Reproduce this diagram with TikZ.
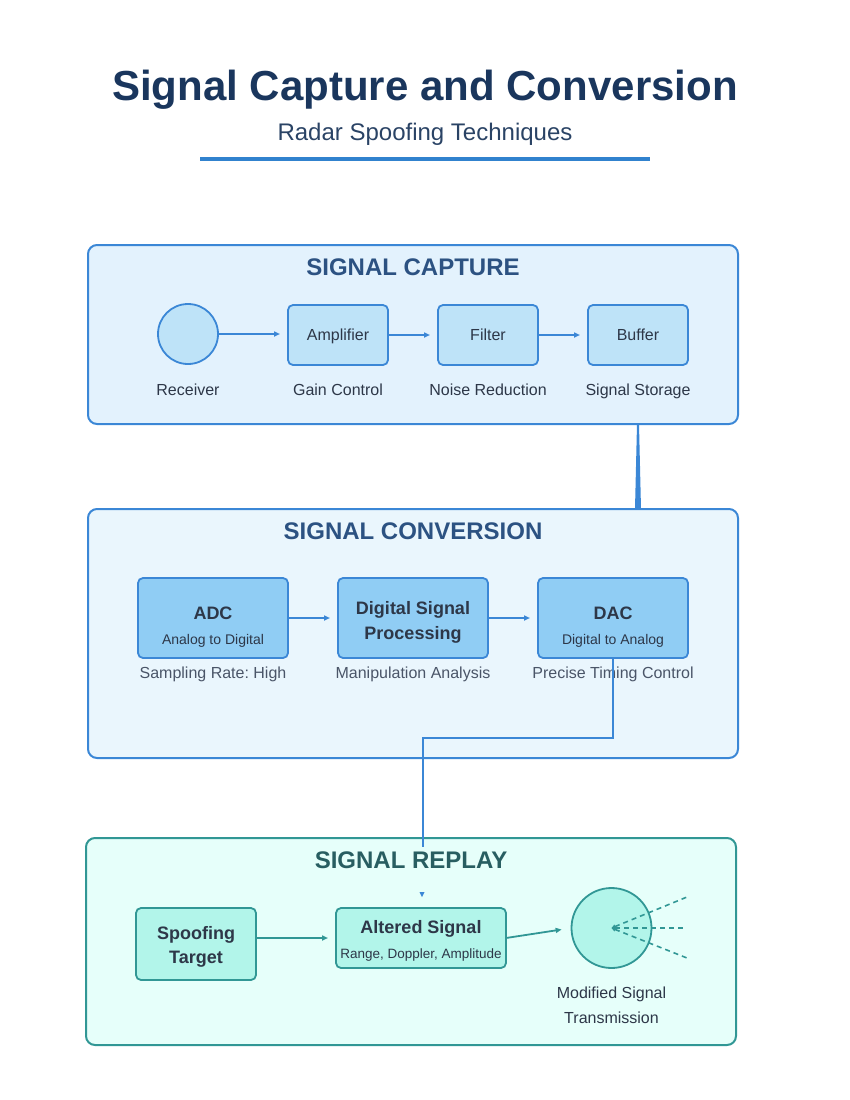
\documentclass[tikz,border=0pt]{standalone}
\usepackage{fontspec}
\setmainfont{Liberation Sans}
\usetikzlibrary{arrows.meta}
\definecolor{titlec}{HTML}{1A365D}
\definecolor{subc}{HTML}{2A4365}
\definecolor{headc}{HTML}{2C5282}
\definecolor{bluel}{HTML}{3182CE}
\definecolor{bluest}{HTML}{3B87D6}
\definecolor{capbg}{HTML}{E3F2FD}
\definecolor{convbg}{HTML}{EAF6FD}
\definecolor{capfill}{HTML}{BEE3F8}
\definecolor{convfill}{HTML}{90CDF4}
\definecolor{darkt}{HTML}{2D3748}
\definecolor{grayt}{HTML}{4A5568}
\definecolor{tealst}{HTML}{319795}
\definecolor{tealbg}{HTML}{E6FFFA}
\definecolor{tealfill}{HTML}{B2F5EA}
\definecolor{tealhead}{HTML}{285E61}
\newcommand\myfs[1]{\fontsize{#1}{#1}\selectfont}
\frenchspacing
\begin{document}
\begin{tikzpicture}[x=1pt,y=-1pt,
  panel/.style={draw=bluest, line width=2pt, rounded corners=9pt, inner sep=0pt, outer sep=0pt},
  capbox/.style={draw=bluest, fill=capfill, line width=1.8pt, rounded corners=5pt, minimum width=100pt, minimum height=60pt, inner sep=0pt, outer sep=0pt},
  convbox/.style={draw=bluest, fill=convfill, line width=1.8pt, rounded corners=5pt, minimum width=150pt, minimum height=80pt, inner sep=0pt, outer sep=0pt},
  repbox/.style={draw=tealst, fill=tealfill, line width=1.8pt, rounded corners=5pt, inner sep=0pt, outer sep=0pt},
  txt/.style={anchor=base, inner sep=0pt, text=darkt, font=\myfs{16}},
  gtxt/.style={anchor=base, inner sep=0pt, text=grayt, font=\myfs{16}},
  btxt/.style={anchor=base, inner sep=0pt, text=darkt, font=\myfs{18}\bfseries},
  stxt/.style={anchor=base, inner sep=0pt, text=darkt, font=\myfs{14}},
  head/.style={anchor=base, inner sep=0pt, font=\myfs{24}\bfseries},
  arr/.style={draw=bluest, line width=1.6pt, shorten >=8pt, -{Triangle[length=6pt,width=5pt]}},
  tarr/.style={draw=tealst, line width=1.8pt, shorten >=8pt, -{Triangle[length=6pt,width=5pt]}},
  conn/.style={draw=bluest, line width=1.8pt},
  beam/.style={draw=tealst, line width=1.6pt, dash pattern=on 5pt off 4pt}
]
\useasboundingbox (0,0) rectangle (850,1100);

% title
\node[anchor=base, inner sep=0pt, text=titlec, font=\myfs{42}\bfseries] (title) at (425,100) {Signal Capture and Conversion};
\node[anchor=base, inner sep=0pt, text=subc, font=\myfs{24}] (subtitle) at (425,140) {Radar Spoofing Techniques};
\draw[draw=bluel, line width=4pt] (200,159) coordinate (ul1) -- (650,159) coordinate (ul2);

% panels
\node[panel, fill=capbg, minimum width=650pt, minimum height=179pt] (p1) at (413,334.5) {};
\node[panel, fill=convbg, minimum width=650pt, minimum height=249pt] (p2) at (413,633.5) {};
\node[panel, draw=tealst, fill=tealbg, minimum width=650pt, minimum height=207pt] (p3) at (411,941.5) {};

\node[head, text=headc] (h1) at (413,275) {SIGNAL CAPTURE};
\node[head, text=headc] (h2) at (413,539) {SIGNAL CONVERSION};
\node[head, text=tealhead] (h3) at (411,868.5) {SIGNAL REPLAY};

% capture
\node[circle, draw=bluest, fill=capfill, line width=1.8pt, minimum size=60pt, inner sep=0pt, outer sep=0pt] (rcv) at (188,334) {};
\node[capbox] (amp) at (338,335) {};
\node[capbox] (flt) at (488,335) {};
\node[capbox] (buf) at (638,335) {};
\node[txt] (tamp) at (338,340) {Amplifier};
\node[txt] (tflt) at (488,340) {Filter};
\node[txt] (tbuf) at (638,340) {Buffer};
\node[txt] (lrcv) at (188,395) {Receiver};
\node[txt] (lamp) at (338,395) {Gain Control};
\node[txt] (lflt) at (488,395) {Noise Reduction};
\node[txt] (lbuf) at (638,395) {Signal Storage};
\draw[arr] (rcv.east) -- (rcv.east -| amp.west);
\draw[arr] (amp.east) -- (flt.west);
\draw[arr] (flt.east) -- (buf.west);

% tapered link capture -> conversion
\coordinate (t1) at (p1.south -| buf.south);
\coordinate (t2) at (p2.north -| buf.south);
\fill[bluest] ([xshift=-1pt]t1) -- ([xshift=1pt]t1) -- ([xshift=3pt]t2) -- ([xshift=-3pt]t2) -- cycle;

% conversion
\node[convbox] (adc) at (213,618) {};
\node[convbox] (dsp) at (413,618) {};
\node[convbox] (dac) at (613,618) {};
\node[btxt] (tadc) at (213,619) {ADC};
\node[stxt] (sadc) at (213,644) {Analog to Digital};
\node[btxt] (tdsp1) at (413,614) {Digital Signal};
\node[btxt] (tdsp2) at (413,639) {Processing};
\node[btxt] (tdac) at (613,619) {DAC};
\node[stxt] (sdac) at (613,644) {Digital to Analog};
\node[gtxt] (ladc) at (213,678.5) {Sampling Rate: High};
\node[gtxt] (ldsp) at (413,678.5) {Manipulation Analysis};
\node[gtxt] (ldac) at (613,678.5) {Precise Timing Control};
\draw[arr] (adc.east) -- (dsp.west);
\draw[arr] (dsp.east) -- (dac.west);

% link conversion -> replay
\coordinate (bend) at (613,738);
\coordinate (rpin) at (423,847);
\draw[conn] (dac.south) -- (bend) -| (rpin);
\fill[bluest] (419.5,892) -- (424.5,892) -- (422,897) -- cycle;

% replay
\node[repbox, minimum width=120pt, minimum height=72pt] (spf) at (196,944) {};
\node[repbox, minimum width=170pt, minimum height=60pt] (alt) at (421,938) {};
\node[circle, draw=tealst, fill=tealfill, line width=1.8pt, minimum size=80pt, inner sep=0pt, outer sep=0pt] (tx) at (611.5,928) {};
\node[btxt] (tspf1) at (196,939) {Spoofing};
\node[btxt] (tspf2) at (196,963.5) {Target};
\node[btxt] (talt) at (421,933.5) {Altered Signal};
\node[stxt, font=\myfs{13.5}] (salt) at (421,958.5) {Range, Doppler, Amplitude};
\node[txt] (ltx1) at (611.5,998.5) {Modified Signal};
\node[txt] (ltx2) at (611.5,1023) {Transmission};
\draw[tarr] (spf.east |- alt.east) -- (alt.west);
\draw[tarr, shorten >=10pt] (alt.east) -- (tx.west);
\coordinate (b1) at (687,897);
\coordinate (b2) at (687,928);
\coordinate (b3) at (687,958);
\draw[beam, {Triangle[length=4pt,width=4pt]}-] (tx.center) -- (b1);
\draw[beam, {Triangle[length=4pt,width=4pt]}-] (tx.center) -- (b2);
\draw[beam, {Triangle[length=4pt,width=4pt]}-] (tx.center) -- (b3);
\end{tikzpicture}
\end{document}
